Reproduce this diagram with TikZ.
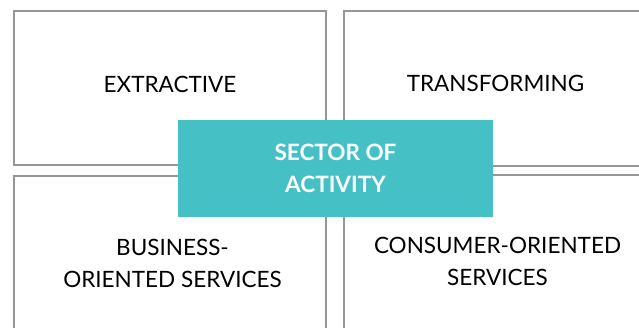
\documentclass[tikz,border=0pt]{standalone}
\usepackage{fontspec}
\setmainfont{Lato}
\definecolor{teal1}{HTML}{45C1C5}
\definecolor{frame}{HTML}{969696}
\begin{document}
\begin{tikzpicture}[x=1pt,y=-1pt,
  frm/.style={draw=frame,line width=2.8pt},
  lbl/.style={font=\fontsize{22.5}{32}\selectfont,align=center,text=black,inner sep=0pt},
  ctr/.style={fill=teal1,minimum width=315pt,minimum height=97pt,inner sep=0pt,
    font=\bfseries\fontsize{22.5}{32}\selectfont,text=white,align=center}]
\useasboundingbox (0,0) rectangle (639,327);
\clip (0,0) rectangle (639,327);
\draw[frm] (14,11) rectangle (326,165);
\draw[frm] (344,11) rectangle (660,166);
\draw[frm] (14,176) rectangle (326,340);
\draw[frm] (344,175) rectangle (660,340);
\node[lbl] (ext) at (170,84) {EXTRACTIVE};
\node[lbl] (tra) at (495.5,83) {TRANSFORMING};
\node[lbl] (bus) at (172.5,263) {BUSINESS-\\ORIENTED SERVICES};
\node[lbl] (con) at (497.5,261.5) {CONSUMER-ORIENTED\\SERVICES};
\node[ctr] (sec) at (335.5,168.5) {SECTOR OF\\ACTIVITY};
\end{tikzpicture}
\end{document}
